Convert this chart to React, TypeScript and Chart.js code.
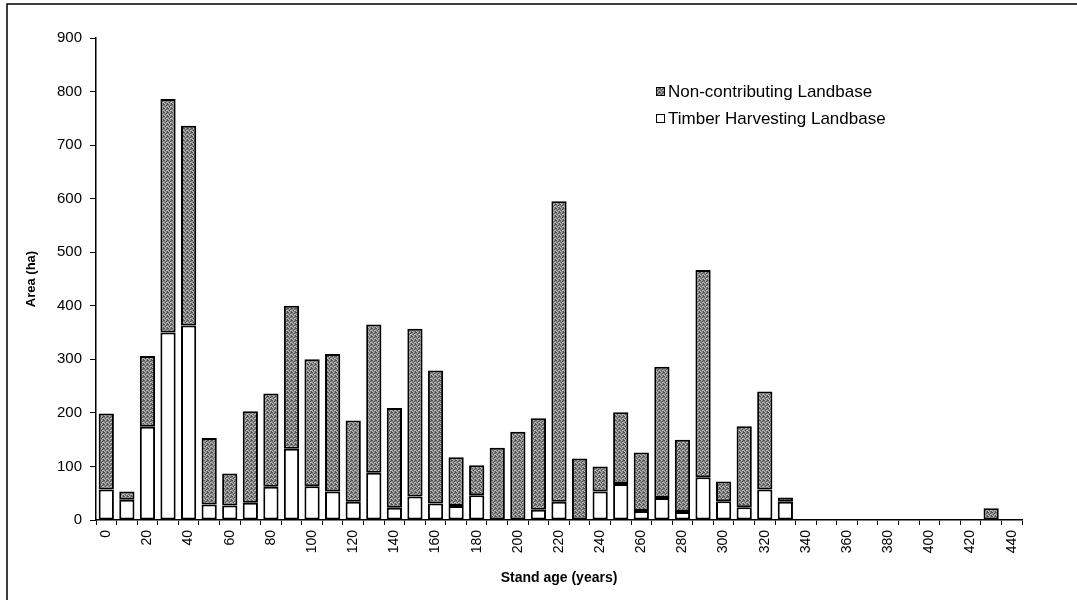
import React, { useEffect, useRef } from "react";
import { Chart, registerables } from "chart.js";

Chart.register(...registerables);

const ageLabels = [
  0, 10, 20, 30, 40, 50, 60, 70, 80, 90, 100, 110, 120, 130, 140, 150, 160, 170, 180, 190,
  200, 210, 220, 230, 240, 250, 260, 270, 280, 290, 300, 310, 320, 330, 340, 350, 360, 370,
  380, 390, 400, 410, 420, 430, 440,
];

const timberHarvesting = [
  57, 38, 174, 350, 363, 29, 27, 32, 62, 133, 63, 53, 34, 88, 23, 44, 31, 26, 46, 0,
  0, 19, 34, 0, 53, 67, 17, 41, 15, 80, 35, 24, 57, 34, 0, 0, 0, 0,
  0, 0, 0, 0, 0, 0, 0,
];

const nonContributing = [
  142, 15, 132, 436, 373, 124, 60, 171, 174, 267, 237, 257, 152, 277, 186, 313, 248, 91, 56, 135,
  165, 171, 561, 115, 47, 134, 109, 245, 135, 387, 37, 151, 183, 8, 0, 0, 0, 0,
  2, 0, 0, 0, 0, 22, 0,
];

const seriesNames = ["Non-contributing Landbase", "Timber Harvesting Landbase"];
const yAxisTitle = "Area (ha)";
const xAxisTitle = "Stand age (years)";
const yMax = 900;
const yStep = 100;

const FONT = "'Liberation Sans', Arial, Helvetica, sans-serif";

function makePattern(): CanvasPattern | string {
  const pc = document.createElement("canvas");
  pc.width = 4;
  pc.height = 4;
  const g = pc.getContext("2d");
  if (!g) return "#858585";
  g.fillStyle = "#8a8a8a";
  g.fillRect(0, 0, 4, 4);
  g.fillStyle = "#4c4c4c";
  [[0, 0], [2, 1], [1, 2], [3, 3], [3, 0]].forEach(([x, y]) => g.fillRect(x, y, 1, 1));
  g.fillStyle = "#bcbcbc";
  [[1, 0], [3, 2], [0, 3], [2, 2]].forEach(([x, y]) => g.fillRect(x, y, 1, 1));
  const p = g.createPattern(pc, "repeat");
  return p || "#858585";
}

export default function App() {
  const ref = useRef<HTMLCanvasElement | null>(null);

  useEffect(() => {
    if (!ref.current) return;
    const gray = makePattern();

    const framePlugin = {
      id: "frameAndLegend",
      beforeDraw(chart: any) {
        const ctx = chart.ctx;
        ctx.save();
        ctx.fillStyle = "#ffffff";
        ctx.fillRect(0, 0, chart.width, chart.height);
        ctx.strokeStyle = "#000";
        ctx.lineWidth = 1.5;
        ctx.beginPath();
        ctx.moveTo(7, 600);
        ctx.lineTo(7, 4);
        ctx.lineTo(1077, 4);
        ctx.stroke();
        ctx.restore();
      },
      afterDraw(chart: any) {
        const ctx = chart.ctx;
        ctx.save();
        const items = [
          { label: seriesNames[0], fill: gray, y: 91 },
          { label: seriesNames[1], fill: "#ffffff", y: 118 },
        ];
        ctx.font = `17px ${FONT}`;
        ctx.textBaseline = "middle";
        ctx.textAlign = "left";
        items.forEach((it) => {
          ctx.fillStyle = it.fill as any;
          ctx.fillRect(656, it.y - 4, 8, 8);
          ctx.strokeStyle = "#000";
          ctx.lineWidth = 1;
          ctx.strokeRect(656.5, it.y - 3.5, 8, 8);
          ctx.fillStyle = "#000";
          ctx.fillText(it.label, 668, it.y + 1);
        });
        ctx.restore();
      },
    };

    const chart = new Chart(ref.current, {
      type: "bar",
      data: {
        labels: ageLabels.map(String),
        datasets: [
          {
            label: seriesNames[1],
            data: timberHarvesting,
            backgroundColor: "#ffffff",
            borderColor: "#000000",
            borderWidth: 2,
            borderSkipped: false,
            barPercentage: 0.74,
            categoryPercentage: 1,
            stack: "s",
          },
          {
            label: seriesNames[0],
            data: nonContributing,
            backgroundColor: gray as any,
            borderColor: "#000000",
            borderWidth: 2,
            borderSkipped: false,
            barPercentage: 0.74,
            categoryPercentage: 1,
            stack: "s",
          },
        ],
      },
      options: {
        responsive: false,
        animation: false,
        layout: { padding: { left: 20, top: 38, right: 55, bottom: 10 } },
        plugins: {
          legend: { display: false },
          tooltip: { enabled: false },
        },
        scales: {
          x: {
            stacked: true,
            afterFit: (s: any) => {
              s.height = 70;
            },
            border: { display: true, color: "#000", width: 1.5 },
            grid: {
              display: true,
              drawOnChartArea: false,
              drawTicks: true,
              tickLength: 5,
              color: "#000",
              lineWidth: 1,
              offset: true,
            },
            ticks: {
              autoSkip: false,
              minRotation: 90,
              maxRotation: 90,
              padding: 5,
              color: "#000",
              font: { family: FONT, size: 14 },
              callback: (_v: any, i: number) => (i % 2 === 0 ? String(ageLabels[i]) : ""),
            },
            title: {
              display: true,
              text: xAxisTitle,
              color: "#000",
              font: { family: FONT, size: 14, weight: "bold" },
              padding: { top: 4, bottom: 3 },
            },
          },
          y: {
            stacked: true,
            min: 0,
            max: yMax,
            afterFit: (s: any) => {
              s.width = 76;
            },
            border: { display: true, color: "#000", width: 1.5 },
            grid: {
              display: true,
              drawOnChartArea: false,
              drawTicks: true,
              tickLength: 6,
              color: "#000",
              lineWidth: 1,
            },
            ticks: {
              stepSize: yStep,
              padding: 8,
              color: "#000",
              font: { family: FONT, size: 15 },
            },
            title: {
              display: true,
              text: yAxisTitle,
              color: "#000",
              font: { family: FONT, size: 13, weight: "bold" },
              padding: { top: 4, bottom: 4 },
            },
          },
        },
      },
      plugins: [framePlugin],
    });

    return () => chart.destroy();
  }, []);

  return (
    <div style={{ position: "absolute", left: 0, top: 0, width: 1077, height: 600, background: "#fff" }}>
      <canvas ref={ref} width={1077} height={600} style={{ display: "block" }} />
    </div>
  );
}
